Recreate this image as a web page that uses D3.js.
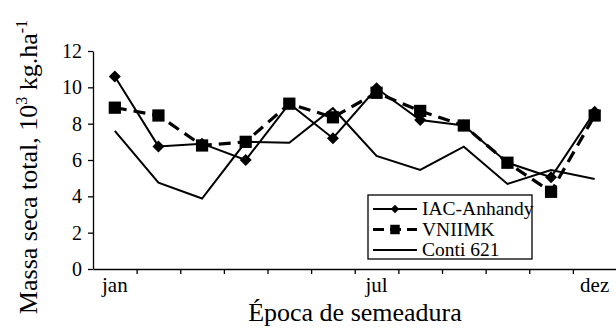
<!DOCTYPE html>
<html>
<head>
<meta charset="utf-8">
<script src="https://cdn.jsdelivr.net/npm/d3@7"></script>
<style>
  body { margin: 0; background: #fff; }
  svg { display: block; font-family: "Liberation Serif", "Times New Roman", serif; }
  .axis path, .axis line { stroke: #000; stroke-width: 1.3px; }
  .axis text { font-family: "Liberation Serif", serif; font-size: 20px; fill: #000; }
</style>
</head>
<body>
<div id="chart"></div>
<script>
// sowing month (categories)
const months = ["jan", "fev", "mar", "abr", "mai", "jun", "jul", "ago", "set", "out", "nov", "dez"];
const monthLabels = ["jan", "jul", "dez"];
const yTicks = [0, 2, 4, 6, 8, 10, 12];

// total dry mass, 10^3 kg/ha
const iacAnhandy = [10.6, 6.75, 6.9, 6.0, 9.1, 7.2, 9.95, 8.2, 7.9, 5.85, 5.05, 8.65];
const vniimk     = [8.88, 8.45, 6.8, 7.0, 9.1, 8.35, 9.7, 8.7, 7.9, 5.85, 4.25, 8.45];
const conti621   = [7.6, 4.75, 3.88, 7.0, 6.95, 8.85, 6.22, 5.45, 6.73, 4.68, 5.45, 4.95];

const seriesNames = ["IAC-Anhandy", "VNIIMK", "Conti 621"];

const W = 616, H = 329;
const svg = d3.select("#chart").append("svg")
    .attr("width", W)
    .attr("height", H);

const x = d3.scaleBand().domain(months).range([93, 616.5]);
const xEdge = d3.scaleLinear().domain([0, months.length]).range([93, 616.5]);
const y = d3.scaleLinear().domain([0, 12]).range([269, 51]);

const cx = d => x(d) + x.bandwidth() / 2;

// square-ish diamond like the original (not the tall d3 one)
const flatDiamond = {
    draw(context, size) {
        const r = Math.sqrt(size / 2);
        context.moveTo(0, -r);
        context.lineTo(r, 0);
        context.lineTo(0, r);
        context.lineTo(-r, 0);
        context.closePath();
    }
};

// y axis
svg.append("g")
    .attr("class", "axis")
    .attr("transform", "translate(93,0)")
    .call(d3.axisLeft(y).tickValues(yTicks).tickSize(5).tickSizeOuter(0).tickPadding(6));

// x axis: ticks at category edges, labels only jan/jul/dez
svg.append("g")
    .attr("class", "axis")
    .attr("transform", "translate(0,269)")
    .call(d3.axisBottom(xEdge).tickValues(d3.range(1, months.length + 1))
        .tickSize(5).tickSizeOuter(0).tickFormat(""));

svg.selectAll("text.mlabel")
    .data(monthLabels)
    .join("text")
    .attr("class", "mlabel")
    .attr("x", d => cx(d))
    .attr("y", 292)
    .attr("text-anchor", "middle")
    .attr("font-size", 21)
    .text(d => d);

// axis titles
svg.append("text")
    .attr("x", 355)
    .attr("y", 321)
    .attr("text-anchor", "middle")
    .attr("font-size", 26)
    .text("Época de semeadura");

const yl = svg.append("text")
    .attr("transform", "translate(37,167) rotate(-90)")
    .attr("text-anchor", "middle")
    .attr("font-size", 26);
yl.append("tspan").text("Massa seca total, 10");
yl.append("tspan").attr("font-size", 16).attr("dy", -10).text("3");
yl.append("tspan").attr("dy", 10).text(" kg.ha");
yl.append("tspan").attr("font-size", 16).attr("dy", -10).text("-1");

// lines
const line = d3.line()
    .x((d, i) => cx(months[i]))
    .y(d => y(d));

svg.append("path")
    .datum(conti621)
    .attr("d", line)
    .attr("fill", "none")
    .attr("stroke", "#000")
    .attr("stroke-width", 2);

svg.append("path")
    .datum(vniimk)
    .attr("d", line)
    .attr("fill", "none")
    .attr("stroke", "#000")
    .attr("stroke-width", 3.2)
    .attr("stroke-dasharray", "12,7");

svg.append("path")
    .datum(iacAnhandy)
    .attr("d", line)
    .attr("fill", "none")
    .attr("stroke", "#000")
    .attr("stroke-width", 2);

const square = d3.symbol().type(d3.symbolSquare).size(150);
const diamond = d3.symbol().type(flatDiamond).size(72);

svg.selectAll("path.sq")
    .data(vniimk)
    .join("path")
    .attr("class", "sq")
    .attr("d", square)
    .attr("transform", (d, i) => `translate(${cx(months[i])},${y(d)})`)
    .attr("fill", "#000");

svg.selectAll("path.dm")
    .data(iacAnhandy)
    .join("path")
    .attr("class", "dm")
    .attr("d", diamond)
    .attr("transform", (d, i) => `translate(${cx(months[i])},${y(d)})`)
    .attr("fill", "#000");

// legend
const lg = svg.append("g");
lg.append("rect")
    .attr("x", 368).attr("y", 195)
    .attr("width", 164).attr("height", 64)
    .attr("fill", "#fff")
    .attr("stroke", "#000")
    .attr("stroke-width", 1.3);

const rowY = [209, 229.5, 250];
seriesNames.forEach((name, i) => {
    const g = lg.append("g").attr("transform", `translate(0,${rowY[i]})`);
    g.append("line")
        .attr("x1", 373).attr("x2", 417)
        .attr("stroke", "#000")
        .attr("stroke-width", i === 1 ? 3.2 : 2)
        .attr("stroke-dasharray", i === 1 ? "11,6" : null);
    if (i === 0) {
        g.append("path").attr("d", d3.symbol().type(flatDiamond).size(36))
            .attr("transform", "translate(395,0)");
    } else if (i === 1) {
        g.append("path").attr("d", d3.symbol().type(d3.symbolSquare).size(90))
            .attr("transform", "translate(395,0)");
    }
    g.append("text")
        .attr("x", 422)
        .attr("y", 6)
        .attr("font-size", 19.5)
        .text(name);
});
</script>
</body>
</html>
